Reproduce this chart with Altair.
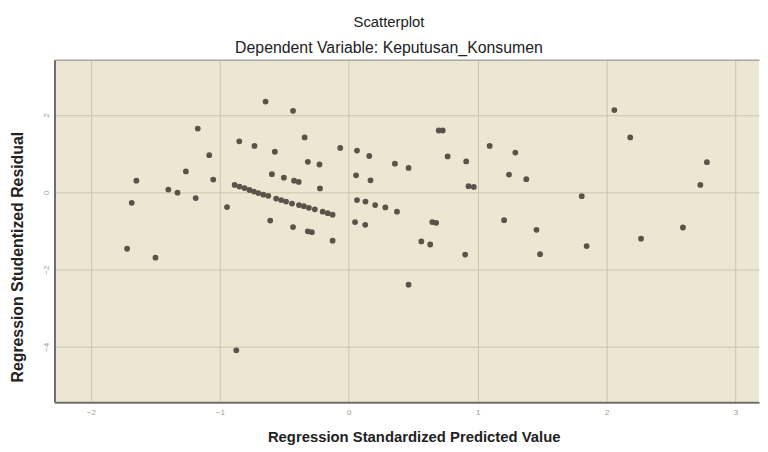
import altair as alt
import pandas as pd

# Regression standardized predicted values (x) and studentized residuals (y)
pred = [
    -1.719, -1.683, -1.647, -1.499, -1.399, -1.328, -1.263, -1.187, -1.171, -1.082,
    -1.051, -0.944, -0.872, -0.849, -0.731, -0.645, -0.609, -0.596, -0.573, -0.503,
    -0.432, -0.432, -0.424, -0.388, -0.342, -0.317, -0.317, -0.286, -0.227, -0.223,
    -0.125,
    -0.885, -0.847, -0.808, -0.770, -0.735, -0.701, -0.662, -0.624, -0.563, -0.524,
    -0.486, -0.440, -0.386, -0.348, -0.309, -0.263, -0.202, -0.163, -0.125,
    -0.066, 0.064, 0.159, 0.057, 0.169, 0.064, 0.130, 0.205, 0.284, 0.374,
    0.049, 0.128, 0.358, 0.464, 0.464, 0.563, 0.632, 0.648, 0.678, 0.698,
    0.729, 0.767, 0.903, 0.911, 0.929, 0.970, 1.093, 1.205, 1.243, 1.292,
    1.377, 1.456, 1.484, 1.807, 1.845, 2.060, 2.183, 2.267, 2.592, 2.727,
    2.778,
]
resid = [
    -1.46, -0.27, 0.30, -1.69, 0.07, -0.01, 0.54, -0.15, 1.65, 0.96,
    0.33, -0.38, -4.09, 1.32, 1.20, 2.35, -0.73, 0.47, 1.05, 0.38,
    2.11, -0.90, 0.30, 0.27, 1.42, 0.79, -1.01, -1.03, 0.72, 0.10,
    -1.25,
    0.19, 0.15, 0.11, 0.06, 0.02, -0.02, -0.06, -0.09, -0.16, -0.20,
    -0.24, -0.29, -0.33, -0.36, -0.40, -0.44, -0.50, -0.54, -0.58,
    1.15, 1.08, 0.94, 0.44, 0.31, -0.20, -0.24, -0.33, -0.39, -0.50,
    -0.77, -0.84, 0.74, 0.63, -2.39, -1.27, -1.35, -0.77, -0.79, 1.60,
    1.60, 0.93, -1.61, 0.80, 0.16, 0.14, 1.20, -0.72, 0.46, 1.03,
    0.34, -0.97, -1.60, -0.10, -1.39, 2.13, 1.42, -1.20, -0.91, 0.19,
    0.78,
]
x_ticks = [-2, -1, 0, 1, 2, 3]
y_ticks = [-4, -2, 0, 2]

df = pd.DataFrame({"pred": pred, "resid": resid})

FONT = "Liberation Sans"
x_scale = alt.Scale(domain=[-2.282, 3.182], nice=False, zero=False)
y_scale = alt.Scale(domain=[-5.43, 3.43], nice=False, zero=False)

points = alt.Chart(df).mark_circle(size=34, color="#59534a", opacity=1).encode(
    x=alt.X(
        "pred:Q",
        scale=x_scale,
        axis=alt.Axis(
            values=x_ticks,
            title="Regression Standardized Predicted Value",
            titleFont=FONT, titleFontSize=15, titleFontWeight="bold", titleColor="#222222",
            titleX=363, titleY=40, titleBaseline="alphabetic", titleAlign="center",
            labelFont=FONT, labelFontSize=8, labelColor="#9a9a9a", labelPadding=6,
            ticks=False, grid=True, gridColor="#cbc4ad", gridWidth=1,
            domainColor="#6e6e6e", domainWidth=2,
        ),
    ),
    y=alt.Y(
        "resid:Q",
        scale=y_scale,
        axis=alt.Axis(
            values=y_ticks,
            title="Regression Studentized Residual",
            titleFont=FONT, titleFontSize=16, titleFontWeight="bold", titleColor="#222222",
            titleAngle=270, titleX=-29, titleY=199, titleAlign="center", titleBaseline="bottom",
            labelFont=FONT, labelFontSize=8, labelColor="#9a9a9a", labelPadding=4,
            labelAngle=270, labelAlign="center", labelBaseline="bottom",
            ticks=False, grid=True, gridColor="#cbc4ad", gridWidth=1,
            domainColor="#6e6e6e", domainWidth=2,
        ),
    ),
)

top_border = alt.Chart(df).mark_circle(opacity=0).encode(
    x=alt.X(
        "pred:Q",
        scale=x_scale,
        axis=alt.Axis(orient="top", labels=False, ticks=False, grid=False, title=None,
                      domainColor="#a9ab9c", domainWidth=1.5),
    ),
)

chart = (
    alt.layer(points, top_border)
    .resolve_axis(x="independent")
    .properties(
        width=712,
        height=346,
        autosize=alt.AutoSizeParams(type="none"),
        padding={"left": 47, "top": 50, "right": 1, "bottom": 44},
        background="white",
        title=alt.TitleParams(
            text="Scatterplot",
            subtitle="Dependent Variable: Keputusan_Konsumen",
            anchor="middle",
            dx=-18,
            font=FONT,
            fontSize=15,
            fontWeight="normal",
            color="#222222",
            subtitleFont=FONT,
            subtitleFontSize=16,
            subtitleColor="#222222",
            subtitlePadding=10,
            offset=4,
        ),
    )
    .configure_view(fill="#ede6d2", stroke=None)
)

chart.save("out.html", embed_options={"renderer": "svg", "actions": False})
